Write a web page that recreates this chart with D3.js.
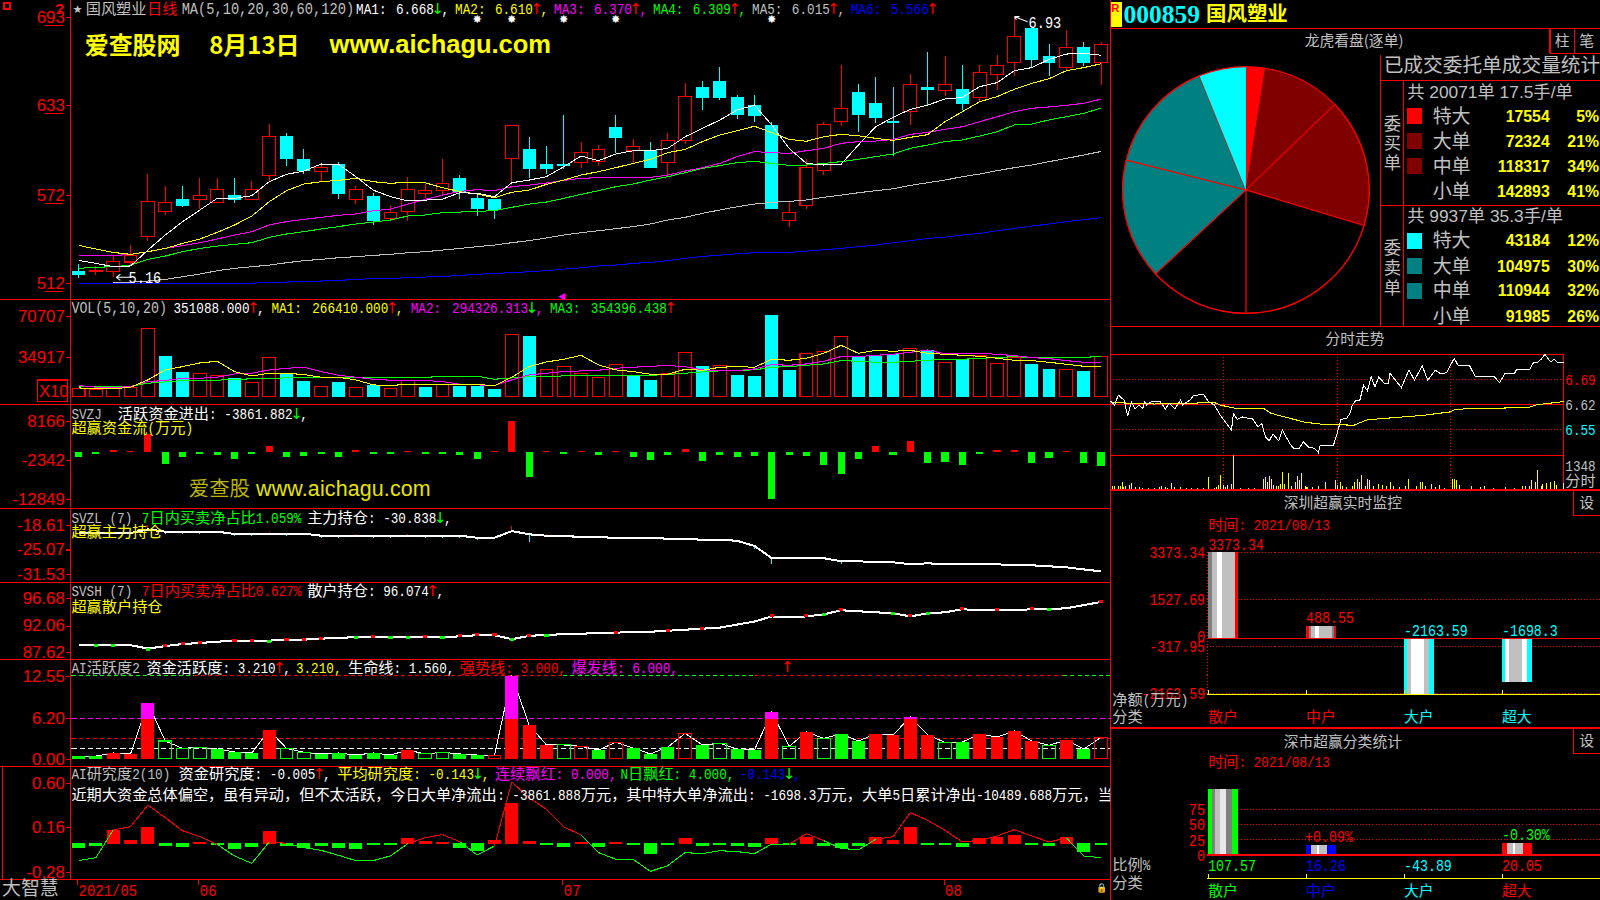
<!DOCTYPE html>
<html><head><meta charset="utf-8">
<script src="https://cdnjs.cloudflare.com/ajax/libs/d3/7.8.5/d3.min.js"></script>
<style>html,body{margin:0;padding:0;background:#000;overflow:hidden}svg{display:block}</style>
</head><body><svg id="c"></svg>
<script>
// ---------- daily candles (price in 1/100 yuan, as on the axis)
const priceTicks=[693,633,572,512];
const open=[520.4,519.9,519.9,526.5,543.7,560.6,569.2,569.2,566.7,571.9,569.2,585.1,612,596.4,587.8,593,569.2,571.3,556.3,560.6,572.8,574.9,583.5,569.9,569.2,596.8,603.2,593,593,593.9,594.6,618.1,602,602.3,593.9,609,645.2,649.3,638.5,633,619.5,554.5,564.7,588.5,621.7,641.9,634.4,621.9,628.7,645.2,642.8,643.9,638,653.6,661.8,685.3,666.3,658.4,672.4,662];
const close=[517.7,520.8,526.9,531,567.6,567,564.5,571.7,575.8,568.5,575.8,611.8,596.4,588,590.3,572.6,575.8,554.3,560.2,575.8,575.1,579.9,574,562.4,561.8,619.2,589.6,589.6,591.6,600.7,602.9,610.6,605,590.3,609,638.9,637.8,637.8,626.2,625.6,562.4,560.2,590.7,619.9,630.8,626.2,624.2,621,647.1,643.2,647.1,633.7,655.2,660,679.6,663.6,661.5,672.2,661.5,674.4];
const high=[525.1,523.8,530.5,537.8,586.2,578.1,578.1,583.5,583.5,583.5,581.2,620.1,614,603.2,592.3,594.1,578.1,573.1,564.9,583.9,579.4,596.4,585.3,573.1,569.2,619.2,611.3,605.2,626.2,607.7,605.9,626.2,609.7,607.7,613.8,648,649.3,658.8,639.8,639.8,621.5,567.2,596.2,621.5,660.2,647.3,652,645.2,654.1,669,666.3,660.2,660.2,667,693,685.3,674.4,683.9,675.8,675.6];
const low=[515.6,517.9,516.1,524.4,540.9,558.4,563.8,562.2,566.7,566.5,569.2,581.4,591.6,586.2,581.2,569.2,565.8,551.6,555,554.3,570.1,571.7,569.2,557.7,555.7,578.7,583.5,586.2,589.6,590.5,591.6,600.5,593.2,590.3,585.5,606.3,629.6,636.4,623.5,621.5,562.4,550.2,562.4,585.5,618.8,614.7,620.8,598.4,619.5,633,639.1,629.6,635.1,643.2,652.7,658.1,652.7,655.9,659.5,646.6];
const ma1=[527.6,525.6,523.3,523.8,534.6,544.8,553.8,561.8,569.7,569.7,571.5,581,586,588.2,593,592.8,584.4,575.3,570.8,567.9,568.5,569.2,573.5,573.1,570.8,580.3,582.1,584.4,591.2,598.4,595.2,599.8,602,602,603.6,611.5,617.2,622.8,629.6,633,619.5,603.6,593.4,592.3,592.8,605.9,618.3,624.7,630.1,633,637.1,638.2,645.5,648.2,656.3,658.4,664,667.6,668.1,666.8];
const ma2=[537.8,535.3,533,531.7,533.5,535.7,539.1,542.1,546.6,551.6,557.7,567.4,574.9,579.4,581,581.9,583.3,581,579.9,580.6,580.3,576.9,574.2,572.6,570.1,573.8,575.3,579.2,582.1,585.5,587.8,590.5,593.4,596.2,600.7,602.9,608.2,612.7,615.6,618.6,614.3,609.7,608.4,611.5,613.1,612.2,610.4,609,611.1,612.9,621.7,628.5,635.3,638.7,643.7,647.7,650.9,656.3,658.4,661];
const ma3=[531,531,531,531.5,533.5,535.7,537.6,539.6,542.1,544.8,547.1,551.6,553.9,555.4,556.8,558.2,559.1,561.3,562.4,565.8,569,571.9,574.4,575.6,574.9,577.6,578.7,580.1,581.9,583.3,583.7,583.7,583.9,583.9,585.5,588.2,590.5,593.4,598,601.4,600.7,600.2,602,603.6,607,608.2,608.6,609.7,613.1,614.5,616.5,618.3,621.7,625.1,628.5,630.8,631.7,632.8,634.2,637];
const ma4=[522.2,522.9,523.3,524.4,528.3,530.5,533.5,535.7,537.3,538.5,539.6,543.2,545.5,547.1,548.9,550.5,552.3,553.6,555,557.7,558.4,560,560.4,560.9,561.3,563.6,565.8,567.2,569.7,572.4,574.9,577.6,579.4,582.1,584.4,587.1,590,591.9,593.9,594.8,593.4,592.1,592.3,593.4,594.6,596.2,598,599.8,603.6,605.9,608.2,609.3,612,614.9,619.5,620.1,622.9,625.1,627.4,630.9];
const ma5=[null,null,512.4,512.7,513.6,514.7,516.5,518.3,520.6,522.2,523.3,524.4,526,527.4,528.3,529.4,530.1,531,531.7,532.8,533.5,534.6,535.7,536.9,538,539.6,541,542.8,544.8,546.4,547.7,549.1,550.5,552.3,555,556.8,559.5,561.8,564,565.8,567,567.6,568.6,570.4,571.9,573.5,574.9,576.2,578.5,580.3,582.1,584.4,586.2,588.5,590.5,592.3,594.6,596.8,599.1,601.5];
const ma6=[512,512,512,512,512,512,512,512.2,512.2,512.2,512.2,512.4,512.9,513.1,513.6,514,514.7,515.2,515.4,515.8,516.3,516.7,517.4,518.1,518.8,519.2,519.9,520.6,521.7,522.6,523.8,524.4,525.6,526.2,527.4,529,530.3,531.2,532.1,532.8,532.8,533,533.9,534.8,535.7,536.9,538,539.6,541,542.5,543.4,544.8,545.9,547.7,549.3,550.9,552.3,553.9,555.2,556.6];
const starIdx=[23,25,28,31,40];
// ---------- volume
const volTicks=[70707,34917];
const vol=[7275,5820,6984,8148,59655,35502,21534,20370,18333,16005,12513,34338,20370,13677,9021,12804,8148,10476,7275,13968,8439,10185,9603,9603,6693,54417,52962,23862,26481,20370,16878,28227,18042,14550,20370,38703,26772,27354,18915,18042,71295,23280,37830,39576,52671,34338,35502,37248,42195,40740,29973,32592,35502,29100,34338,28518,24153,23862,22407,34920];
const volKind="rrrrrccrrcrrccrcrcrrcrcccrcrrrrrccrrcrccccrrrcccrcrcrrrccrcr";
const volMa1=[7566,6693,6693,8148,14550,23280,26190,29391,30846,21825,18042,20370,20370,19206,16878,16878,14550,10185,9603,10767,10185,10185,10767,10767,9312,16878,26190,30264,32592,36084,27645,23280,21825,19497,19497,23862,22989,25608,26190,25608,32592,31719,33465,37830,44814,37830,40449,39576,40449,37830,36957,36084,35211,33465,31719,31428,29973,28227,26481,26641];
const volMa2=[9603,8148,7857,8730,13095,13968,16005,16005,16878,19788,20370,23280,24735,25608,21825,18624,16878,15132,14259,13968,13968,13095,10767,10185,9603,14550,18915,20370,21825,22407,22989,24735,25608,26481,27063,26190,23280,22989,22698,24153,27936,27354,28518,30846,34920,34920,36084,36957,38703,40740,37248,37830,37830,36957,35793,34047,33174,31428,29973,29432];
const volMa3=[8730,8730,8730,9021,11640,12804,13968,13968,14259,15132,15423,16005,16296,16296,16587,16587,16587,16587,16587,16878,16878,17460,17751,17751,15132,16296,17460,17460,18042,18624,18624,18624,18624,18624,19206,20370,21534,22407,22989,23280,25608,26190,27354,28518,31428,30846,29973,29973,30846,31719,32592,32592,33465,34047,34920,34047,34047,34047,34047,35440];
// ---------- SVZJ money flow
const flowTicks=[8166,-2342,-12849];
const flow=[-1437,-180,359,90,4670,-3412,-1437,-718,-898,-1976,-629,1437,-1437,-1257,-629,-1437,359,-629,-359,90,-449,-359,-898,-2065,90,8166,-6825,90,-449,90,-988,90,-1527,-2335,-988,629,-2604,-988,-1527,-1257,-12849,-988,-1257,-3682,-6106,-2065,1437,-988,2784,-3143,-2874,-3682,-718,359,359,-3143,-1796,90,-3143,-3861.882];
// ---------- SVZL / SVSH
const zlTicks=[-18.61,-25.07,-31.53];
const zl=[-20.71,-20.71,-20.71,-20.71,-19.77,-20.36,-20.36,-20.36,-20.36,-20.98,-20.98,-20.9,-20.9,-20.9,-21.44,-21.44,-21.44,-21.44,-21.44,-21.44,-21.44,-21.44,-21.44,-21.97,-21.97,-20.23,-21.06,-21.44,-21.57,-21.71,-21.84,-21.98,-21.98,-21.98,-22.24,-22.24,-22.51,-22.51,-22.78,-24.13,-27.36,-27.36,-27.36,-27.36,-28.17,-28.17,-28.44,-28.44,-28.97,-28.71,-28.97,-28.97,-28.97,-28.97,-29.24,-29.24,-29.51,-29.78,-30.32,-30.838];
const zlWickIdx=[4,11,16,19,25,27,5,6,7,9,10,12,14,15,17,18,20,21,22,23,26,39,40,44];
const zlWickEnd=[-18.5,-20.4,-21,-21,-18.75,-21,-21,-21,-21,-21.5,-21.5,-21.5,-22,-22,-22,-22,-22,-22,-22,-22.5,-23.05,-25,-28.97,-28.8];
const shTicks=[96.68,92.06,87.62];
const sh=[88.72,88.72,88.72,88.72,88.14,88.56,88.91,89.09,89.31,89.49,89.49,89.49,89.66,89.66,89.83,89.96,90.08,90.08,90.08,90.08,90.08,90.08,90.22,90.41,90.41,89.73,90.3,90.48,90.57,90.65,90.83,90.83,91,91,91.17,91.35,91.52,91.7,92.22,92.74,93.61,93.44,93.61,93.96,94.66,94.49,94.31,94.14,93.61,94.14,94.31,94.83,94.66,94.66,94.66,94.83,94.83,95,95.53,96.074];
const shRedIdx=[5,6,7,9,10,12,13,14,17,20,22,23,24,26,31,34,36,40,42,44,48,51,53,55,59];
const shGreenIdx=[1,2,4,11,16,18,19,21,25,27,43,47,49,56];
// ---------- AI activity
const actTicks=[12.55,6.2,0];
const act=[.4,.4,.86,.71,8.41,2.67,1.56,1.71,1.46,1.01,.86,4.33,1.56,.96,.71,.86,.55,.86,.55,1.31,.71,.96,.71,.55,.5,12.55,5.09,2.07,2.07,1.86,1.31,2.47,1.61,.71,1.76,3.83,2.07,2.32,1.46,1.31,7.05,1.86,4.03,3.07,3.73,2.67,3.73,3.58,6.3,3.58,2.47,2.52,3.73,3.27,4.18,2.67,2.02,2.82,1.46,3.21];
const actKind="ggrrrhhhgggrhhgggggrhhggorrrhogogggoghggrhrhggrrrrhgrrrrhrgo";
const actLevels=[3,6,1.56];
// ---------- AI research
const resTicks=[.6,.16,-.28];
const resBars=[-.049,-.03,.129,.03,.158,-.03,-.04,.013,-.02,-.059,-.04,.119,-.03,-.049,-.03,-.049,-.059,-.02,-.02,.049,.02,.01,-.049,-.079,.03,.396,.02,-.02,-.04,.01,-.04,.01,-.02,-.109,-.007,.049,-.03,-.007,-.03,-.04,.049,-.02,.059,-.03,-.049,-.03,.059,.03,.158,-.007,-.02,-.04,.049,.059,.079,-.02,-.03,.059,-.089,-.005];
const resLine=[-.171,-.142,.132,.165,.379,.254,.125,.066,-.01,-.125,-.198,.013,0,-.043,-.069,-.119,-.171,-.171,-.125,-.003,.056,.086,.016,-.115,-.026,.606,.452,.336,.162,.082,-.092,-.158,-.158,-.277,-.221,-.092,-.102,-.073,-.082,-.102,-.007,-.01,.096,.026,-.049,-.066,.04,.066,.303,.227,.129,.013,.03,.073,.135,.073,.013,.053,-.125,-.143];
const monthIdx=[0,7,28,50];
const monthLabels=["2021/05","06","07","08"];
// ---------- order pie
const pieValues=[17554,72324,118317,142893,91985,110944,104975,43184];
const pieColors=["#ff0000","#800000","#800000","#000000","#000000","#008080","#008080","#00ffff"];
const orderNames=["特大","大单","中单","小单"];
const buyAmt=[17554,72324,118317,142893], buyPct=["5%","21%","34%","41%"];
const sellAmt=[43184,104975,110944,91985], sellPct=["12%","30%","32%","26%"];
// ---------- intraday
const minPrice=[0,2,4,6,7,9,11,13,15,17,18,19,22,26,29,31,34,37,38,42,44,46,49,52,55,58,60,64,65,67,70,73,75,78,80,82,84,86,89,91,95,97,100,102,105,108,110,111,118,120,122,125,127,128,130,132,134,136,138,140,142,145,147,148,154,158,161,165,168,172,175,178,182,184,190,193,203,206,209,214,215,222,224,226,228,230,233,235,237,240];
const price=[6.629,6.618,6.646,6.637,6.634,6.587,6.627,6.607,6.618,6.609,6.627,6.618,6.629,6.629,6.607,6.623,6.607,6.632,6.618,6.632,6.646,6.646,6.649,6.627,6.618,6.59,6.576,6.548,6.595,6.578,6.585,6.581,6.581,6.557,6.567,6.529,6.518,6.537,6.518,6.548,6.509,6.497,6.497,6.516,6.5,6.497,6.485,6.505,6.505,6.539,6.578,6.581,6.597,6.618,6.632,6.632,6.674,6.658,6.697,6.669,6.697,6.679,6.679,6.707,6.667,6.716,6.688,6.728,6.688,6.716,6.705,6.709,6.749,6.73,6.73,6.699,6.699,6.681,6.707,6.707,6.718,6.718,6.737,6.737,6.746,6.76,6.739,6.746,6.737,6.738];
const minAvg=[0,7,23,55,58,66,81,85,92,103,114,129,136,165,180,182,189,221,226,240];
const avgPrice=[6.627,6.624,6.621,6.625,6.618,6.609,6.609,6.595,6.585,6.57,6.563,6.562,6.577,6.589,6.599,6.605,6.608,6.611,6.619,6.628];
const tickMin=[1,2,4,5,6,7,8,10,11,13,15,17,20,23,26,27,29,30,32,34,37,40,43,46,49,52,55,56,57,58,60,61,62,64,65,69,73,76,81,82,83,84,85,86,88,89,90,91,92,94,96,98,99,100,101,103,104,107,110,114,119,120,122,123,125,128,129,131,132,133,135,136,137,139,142,144,146,148,150,153,156,158,162,164,165,167,170,172,174,177,181,182,183,185,191,196,198,203,209,214,218,220,222,223,225,226,228,229,231,233,235,236,240];
const tickVol=[106,106,133,133,293,80,106,160,239,67,67,53,53,53,67,106,80,53,239,67,67,40,40,40,40,492,40,67,160,559,160,67,160,213,1348,27,27,27,399,492,266,505,399,160,133,106,186,665,186,638,106,266,532,372,625,133,67,80,133,266,372,160,266,106,67,133,266,399,266,559,133,399,372,106,200,160,106,266,106,67,106,399,106,266,293,133,200,67,160,40,399,399,346,160,106,67,106,40,67,40,106,106,133,372,266,758,106,200,239,266,333,160,239];
// ---------- Shenzhen panels
const clsNames=["散户","中户","大户","超大"];
const netValues=[3373.34,488.55,-2163.59,-1698.3];
const netLabels=["3373.34","488.55","-2163.59","-1698.3"];
const netTicks=[3373.34,1527.69,-317.95,-2163.59];
const ratioValues=[107.57,16.26,0,20.05];
const ratioLabels=["107.57","16.26","-43.89","20.05"];
const ratioTicks=[75,50,25,0];

// ================= drawing
const RED="#ff0000",GRAY="#c0c0c0";
const svg=d3.select("#c").attr("width",1600).attr("height",900).attr("viewBox","0 0 1568 882").style("background","#000");
const crisp=svg.append("g").attr("shape-rendering","crispEdges");
const defs=svg.append("defs");
defs.append("clipPath").attr("id","left").append("rect").attr("x",0).attr("y",0).attr("width",1088).attr("height",882);
const idx=d3.range(60);
const x=d3.scaleBand().domain(idx).range([68.5,1087.5]);
const cx=i=>x(i)+x.bandwidth()/2;
const W=12.6;
function hline(y,x1,x2,c,w,dash){const l=crisp.append("line").attr("x1",x1).attr("x2",x2).attr("y1",y).attr("y2",y).attr("stroke",c||RED).attr("stroke-width",w||1);if(dash)l.attr("stroke-dasharray",dash);return l;}
function vline(xx,y1,y2,c,w,dash){const l=crisp.append("line").attr("x1",xx).attr("x2",xx).attr("y1",y1).attr("y2",y2).attr("stroke",c||RED).attr("stroke-width",w||1);if(dash)l.attr("stroke-dasharray",dash);return l;}
function mixed(px,py,str,color,o){o=o||{};const cw=o.size||14.9,aw=cw/2;const p=o.parent||svg;
  const chars=Array.from(str);
  const width=chars.reduce((a,c)=>a+(c.charCodeAt(0)>=0x2E80?cw:aw),0);
  let xx=o.anchor==="end"?px-width:px;let i=0;
  while(i<chars.length){const c=chars[i];const code=c.charCodeAt(0);
    if(c==="↑"||c==="↓"){p.append("text").attr("x",xx+aw/2).attr("y",py+cw*.36).attr("text-anchor","middle").attr("font-family","DejaVu Sans").attr("font-size",cw).attr("fill",c==="↑"?RED:"#00ff00").text(c);xx+=aw;i++;continue;}
    const cjk=code>=0x2E80;let j=i;let s="";
    while(j<chars.length){const d=chars[j];if(d==="↑"||d==="↓")break;if((d.charCodeAt(0)>=0x2E80)!==cjk)break;s+=d;j++;}
    const n=j-i;
    const t=p.append("text").attr("x",xx).attr("y",py+cw*.36).attr("xml:space","preserve").style("white-space","pre").attr("font-family",cjk?"Noto Sans CJK SC":"Liberation Mono").attr("font-size",cjk?cw:cw*.98).attr("fill",color).text(s);
    if(!cjk)t.attr("textLength",n*aw).attr("lengthAdjust","spacingAndGlyphs");
    xx+=n*(cjk?cw:aw);i=j;}
}
// panel frames
[293.4,396,498.2,570.7,646.2,751.3,862].forEach(y=>hline(y,0,1088));
vline(69.5,0,862);vline(1088.5,0,882);
crisp.append("rect").attr("x",2).attr("y",751.3).attr("width",67.5).attr("height",110.7).attr("fill","none").attr("stroke",RED);
// axis helper
function axis(scale,vals,fmt){const g=svg.append("g").attr("transform","translate(69.5,0)").call(d3.axisLeft(scale).tickValues(vals).tickSize(5).tickPadding(1).tickFormat(fmt||(d=>d)));
  g.select(".domain").remove();g.selectAll("line").attr("stroke",RED).attr("shape-rendering","crispEdges");
  g.selectAll("text").attr("fill",RED).attr("font-family","Liberation Sans").attr("font-size",16.5);return g;}
// --- main
const yP=d3.scaleLinear().domain([512,693]).range([277.7,16.3]);
axis(yP,priceTicks);
priceTicks.forEach(v=>hline(yP(v)+8.4,44.5,61.5));
const gc=crisp.append("g");
idx.forEach(i=>{const up=close[i]>=open[i],c=up?RED:"#00ffff";
  gc.append("line").attr("x1",cx(i)).attr("x2",cx(i)).attr("y1",yP(high[i])).attr("y2",yP(low[i])).attr("stroke",c);
  const t=yP(Math.max(open[i],close[i])),b=yP(Math.min(open[i],close[i]));
  gc.append("rect").attr("x",cx(i)-W/2).attr("y",t).attr("width",W).attr("height",Math.max(b-t,1.5)).attr("fill",up?"#000":c).attr("stroke",up?c:"none");
});
const lineOf=s=>d3.line().defined(d=>d!==null).x((d,i)=>cx(i)).y(d=>s(d));
[[ma6,"#0000ff"],[ma5,"#c0c0c0"],[ma4,"#00ff00"],[ma3,"#ff00ff"],[ma2,"#ffff00"],[ma1,"#ffffff"]].forEach(([d,c])=>{
  crisp.append("path").attr("d",lineOf(yP)(d)).attr("fill","none").attr("stroke",c).attr("stroke-width",1);});
svg.selectAll(".st").data(starIdx).enter().append("text").attr("x",d=>cx(d)).attr("y",23).attr("text-anchor","middle").attr("font-family","DejaVu Sans").attr("font-size",11).attr("fill","#fff").text("✸");
// header
crisp.append("rect").attr("x",3.5).attr("y",3).attr("width",6).attr("height",6).attr("fill","none").attr("stroke",RED).attr("stroke-width",2);
svg.append("text").attr("x",54).attr("y",14).attr("font-family","Liberation Sans").attr("font-weight","bold").attr("font-size",15).attr("fill",RED).text("?");
svg.append("text").attr("x",71).attr("y",13).attr("font-family","DejaVu Sans").attr("font-size",11).attr("fill",GRAY).text("★");
mixed(84,8,"国风塑业",GRAY);mixed(144,8,"日线",RED);
mixed(178,8,"MA(5,10,20,30,60,120)",GRAY,{size:16.1});
[["MA1:","6.668↓,","#fff",349],["MA2:","6.610↑,","#ffff00",446],["MA3:","6.370↑,","#ff00ff",543],["MA4:","6.309↑,","#00ff00",640],["MA5:","6.015↑,",GRAY,737],["MA6:","5.566↑","#0000ff",834]].forEach(r=>{
  mixed(r[3],8,r[0],r[2]);mixed(r[3]+39,8,r[1],r[2]);});
const bn=(xx,t)=>svg.append("text").attr("x",xx).attr("y",53).attr("font-family","Noto Sans CJK SC").attr("font-weight","bold").attr("font-size",23.5).attr("fill","#ffff00").text(t);
bn(83,"爱查股网");bn(205,"8月13日");
svg.append("text").attr("x",323).attr("y",52).attr("font-family","Liberation Sans").attr("font-weight","bold").attr("font-size",25).attr("textLength",217).attr("fill","#ffff00").text("www.aichagu.com");
// min / max notes
mixed(126,272,"5.16","#fff",{size:16});
svg.append("path").attr("d",`M${cx(2)+3},${yP(low[2])}h15M${cx(2)+3},${yP(low[2])}l4,-3M${cx(2)+3},${yP(low[2])}l4,3`).attr("stroke","#fff").attr("fill","none");
mixed(1008,22,"6.93","#fff",{size:16});
svg.append("path").attr("d",`M${cx(54)},${yP(high[54])}L${cx(54)+13},${yP(high[54])+5}M${cx(54)},${yP(high[54])}l5,0M${cx(54)},${yP(high[54])}l2,3`).attr("stroke","#fff").attr("fill","none");
svg.append("text").attr("x",547).attr("y",293).attr("font-family","DejaVu Sans").attr("font-size",9).attr("fill","#ff00ff").text("◀");
// --- volume
const yV=d3.scaleLinear().domain([0,70707]).range([388.6,309.4]);
axis(yV,volTicks);
crisp.append("rect").attr("x",36.7).attr("y",372.4).attr("width",29.8).attr("height",21.2).attr("fill","none").attr("stroke",RED);
svg.append("text").attr("x",38.5).attr("y",389).attr("font-family","Liberation Sans").attr("font-size",16).attr("fill",RED).text("X10");
const gv=crisp.append("g");
idx.forEach(i=>{const up=volKind[i]==="r";gv.append("rect").attr("x",cx(i)-W/2).attr("y",yV(vol[i])).attr("width",W).attr("height",yV(0)-yV(vol[i])).attr("fill",up?"#000":"#00ffff").attr("stroke",up?RED:"none");});
[[volMa3,"#00ff00"],[volMa2,"#ff00ff"],[volMa1,"#ffff00"]].forEach(([d,c])=>crisp.append("path").attr("d",lineOf(yV)(d)).attr("fill","none").attr("stroke",c));
mixed(70,301,"VOL(5,10,20)",GRAY,{size:15.6});mixed(170,301,"351088.000↑,","#fff");
mixed(266,301,"MA1:","#ffff00");mixed(306,301,"266410.000↑,","#ffff00");
mixed(402.5,301,"MA2:","#ff00ff");mixed(443,301,"294326.313↓,","#ff00ff");
mixed(539,301,"MA3:","#00ff00");mixed(579,301,"354396.438↑","#00ff00");
// --- flow
const yF=d3.scaleLinear().domain([8166,-2342]).range([412.6,450.8]);
axis(yF,flowTicks);
const flowBase=yF(-300);
idx.forEach(i=>{const v=flow[i];const t=v>=0?yF(v):flowBase,b=v>=0?flowBase:yF(v);
  crisp.append("rect").attr("x",cx(i)-3.5).attr("y",t).attr("width",7).attr("height",Math.max(b-t,1.2)).attr("fill",v>=0?RED:"#00ff00");});
mixed(70,405,"SVZJ",GRAY);mixed(115.5,405,"活跃资金进出: -3861.882↓,","#fff");
mixed(70,419,"超赢资金流(万元)","#ffff00");
svg.append("text").attr("x",185).attr("y",486).attr("font-family","Noto Sans CJK SC").attr("font-size",20).attr("fill","#b8b400").text("爱查股");
svg.append("text").attr("x",251).attr("y",486).attr("font-family","Liberation Sans").attr("font-size",21).attr("textLength",171).attr("fill","#e8e400").text("www.aichagu.com");
// --- SVZL
const yZ=d3.scaleLinear().domain([-18.61,-31.53]).range([514.5,562.5]);
axis(yZ,zlTicks,d=>d.toFixed(2));
zlWickIdx.forEach((d,k)=>vline(cx(d),yZ(zl[d]),yZ(zlWickEnd[k]),zlWickEnd[k]>zl[d]?RED:"#00ffff"));
crisp.append("path").attr("d",lineOf(yZ)(zl)).attr("fill","none").attr("stroke","#fff").attr("stroke-width",2);
mixed(70,506.7,"SVZL (7)",GRAY);mixed(139,506.7,"7日内买卖净占比1.059%","#00ff00");mixed(301,506.7,"主力持仓: -30.838↓,","#fff");
mixed(70,521,"超赢主力持仓","#ffff00");
// --- SVSH
const yS=d3.scaleLinear().domain([96.68,87.62]).range([586.4,638.6]);
axis(yS,shTicks,d=>d.toFixed(2));
crisp.append("path").attr("d",lineOf(yS)(sh)).attr("fill","none").attr("stroke","#fff").attr("stroke-width",2);
shRedIdx.forEach(d=>crisp.append("rect").attr("x",cx(d)-2).attr("y",yS(sh[d])-2).attr("width",4).attr("height",3).attr("fill",RED));
shGreenIdx.forEach(d=>crisp.append("rect").attr("x",cx(d)-2).attr("y",yS(sh[d])-1).attr("width",4).attr("height",3).attr("fill","#00ff00"));
mixed(70,579,"SVSH (7)",GRAY);mixed(139,579,"7日内买卖净占比0.627%",RED);mixed(301,579,"散户持仓: 96.074↑,","#fff");
mixed(70,594,"超赢散户持仓","#ffff00");
// --- activity
const yA=d3.scaleLinear().domain([0,12.55]).range([743.5,662.1]);
axis(yA,actTicks,d=>d.toFixed(2));
[[70,190,"#00ff00"],[190,552,RED],[552,739,"#00ff00"],[739,1042,RED],[1042,1088,"#00ff00"]].forEach(s=>hline(yA(12.55),s[0],s[1],s[2],1,"4,3"));
hline(yA(actLevels[0]),70,1088,RED,1,"4,3");hline(yA(actLevels[1]),70,1088,"#ff00ff",1,"5,3");hline(yA(actLevels[2]),70,1088,"#fff",1,"5,3");
crisp.append("path").attr("d",lineOf(yA)(act)).attr("fill","none").attr("stroke","#fff");
idx.forEach(i=>{const k=actKind[i],v=act[i];const solid=k==="g"||k==="r";const c=(k==="g"||k==="h")?"#00ff00":RED;
  crisp.append("rect").attr("x",cx(i)-W/2).attr("y",yA(Math.min(v,6))).attr("width",W).attr("height",yA(0)-yA(Math.min(v,6))).attr("fill",solid?c:"none").attr("stroke",solid?"none":c);
  if(v>6)crisp.append("rect").attr("x",cx(i)-W/2).attr("y",yA(v)).attr("width",W).attr("height",yA(6)-yA(v)).attr("fill","#ff00ff");});
mixed(70,654,"AI活跃度2",GRAY);mixed(143.5,654,"资金活跃度: 3.210↑,","#fff");mixed(290,654,"3.210,","#ffff00");
mixed(341,654,"生命线: 1.560,","#fff");mixed(450.5,654,"强势线: 3.000,",RED);mixed(560,654,"爆发线: 6.000,","#ff00ff");
mixed(768,653,"↑","#fff");
// --- research
const yR=d3.scaleLinear().domain([.6,-.28]).range([767,854.2]);
axis(yR,resTicks,d=>d.toFixed(2));
idx.forEach(i=>{const v=resBars[i];const t=v>=0?yR(v):yR(0),b=v>=0?yR(0)+1:yR(v);
  crisp.append("rect").attr("x",cx(i)-W/2).attr("y",t).attr("width",W).attr("height",Math.max(b-t,2)).attr("fill",v>=0?RED:"#00ff00");});
d3.pairs(idx).forEach(([a,b])=>{crisp.append("line").attr("x1",cx(a)).attr("x2",cx(b)).attr("y1",yR(resLine[a])).attr("y2",yR(resLine[b])).attr("stroke",(resLine[a]+resLine[b])>=0?RED:"#00ff00");});
mixed(70,758.5,"AI研究度2(10)",GRAY);mixed(175,758.5,"资金研究度: -0.005↑,","#fff");mixed(330.5,758.5,"平均研究度: -0.143↓,","#ffff00");
mixed(485,758.5,"连续飘红: 0.000,","#ff00ff");mixed(608,758.5,"N日飘红: 4.000,","#00ff00");mixed(725,758.5,"-0.143↓,","#0000ff");
const longG=svg.append("g").attr("clip-path","url(#left)");
mixed(70,779,"近期大资金总体偏空，虽有异动，但不太活跃，今日大单净流出: -3861.888万元，其中特大单净流出: -1698.3万元，大单5日累计净出-10489.688万元，当","#fff",{parent:longG});
// --- date axis
svg.append("text").attr("x",2).attr("y",877).attr("font-family","Noto Sans CJK SC").attr("font-size",18.5).attr("fill",GRAY).text("大智慧");
monthIdx.forEach((d,k)=>{vline(cx(d)-1,862,867);mixed(cx(d)+ (k===0?0:0)+3-3,872,monthLabels[k],RED,{size:16.4});});
svg.append("text").attr("x",1074).attr("y",873).attr("font-family","DejaVu Sans").attr("font-size",9).attr("fill","#fff").text("🔒");
// ================= right column
crisp.append("rect").attr("x",1088.5).attr("y",1.6).attr("width",11.5).attr("height",24.4).attr("fill","#ffff00");
svg.append("text").attr("x",1089).attr("y",12).attr("font-family","Liberation Sans").attr("font-weight","bold").attr("font-size",11).attr("fill",RED).text("R");
svg.append("text").attr("x",1101).attr("y",23).attr("font-family","Liberation Serif").attr("font-weight","bold").attr("font-size",25).attr("fill","#00ffff").text("000859");
svg.append("text").attr("x",1182).attr("y",21).attr("font-family","Noto Sans CJK SC").attr("font-weight","bold").attr("font-size",20).attr("fill","#ffff00").text("国风塑业");
hline(27.8,1088,1568);
const sub=(xx,y,t)=>svg.append("text").attr("x",xx).attr("y",y+5).attr("text-anchor","middle").attr("font-family","Noto Sans CJK SC").attr("font-size",14.5).attr("fill",GRAY).text(t);
sub(1327,40,"龙虎看盘(逐单)");
vline(1519,27.8,52);hline(52,1519,1568);vline(1543,27.8,52);
sub(1531,40,"柱");sub(1555,40,"笔");
const pie=d3.pie().sort(null).value(d=>d)(pieValues);
const arc=d3.arc().innerRadius(0).outerRadius(120.9);
svg.append("g").attr("transform","translate(1221,186.2)").selectAll("path").data(pie).enter().append("path").attr("d",arc).attr("fill",(d,i)=>pieColors[i]).attr("stroke",(d,i)=>(i===0||i===1||i===7)?"none":RED).attr("stroke-width",1);
svg.append("circle").attr("cx",1221).attr("cy",186.2).attr("r",120.9).attr("fill","none").attr("stroke",RED);
vline(1352.8,54,319.5);hline(78.7,1353,1568);vline(1375.3,78.7,319.5);hline(201.5,1353,1568);hline(319.8,1088,1568);
svg.append("text").attr("x",1356).attr("y",71).attr("font-family","Noto Sans CJK SC").attr("font-size",19.3).attr("fill",GRAY).text("已成交委托单成交量统计");
const rowT=(t,y)=>svg.append("text").attr("x",1379).attr("y",y+6).attr("xml:space","preserve").attr("font-family","Liberation Sans,Noto Sans CJK SC").attr("font-size",17).attr("fill",GRAY).text(t);
rowT("共 20071单 17.5手/单",90);rowT("共 9937单 35.3手/单",212);
const vert=(chars,ys)=>chars.split("").forEach((c,i)=>svg.append("text").attr("x",1364.5).attr("y",ys[i]+6).attr("text-anchor","middle").attr("font-family","Noto Sans CJK SC").attr("font-size",17).attr("fill",GRAY).text(c));
vert("委买单",[121,140,160]);vert("委卖单",[243,263,282]);
function rows(ys,amts,pcts,cols){ys.forEach((y,i)=>{
  if(cols[i])crisp.append("rect").attr("x",1378.4).attr("y",y-7.7).attr("width",15.3).attr("height",15.3).attr("fill",cols[i]);
  svg.append("text").attr("x",1404).attr("y",y+6.5).attr("font-family","Noto Sans CJK SC").attr("font-size",18.6).attr("fill",GRAY).text(orderNames[i]);
  svg.append("text").attr("x",1518.7).attr("y",y+5.5).attr("text-anchor","end").attr("font-family","Liberation Sans").attr("font-weight","bold").attr("font-size",15.5).attr("fill","#ffff00").text(amts[i]);
  svg.append("text").attr("x",1567).attr("y",y+5.5).attr("text-anchor","end").attr("font-family","Liberation Sans").attr("font-weight","bold").attr("font-size",15.5).attr("fill","#ffff00").text(pcts[i]);
});}
rows([114,138.5,162.7,187.2],buyAmt,buyPct,["#ff0000","#800000","#800000",null]);
rows([236,261,285,310],sellAmt,sellPct,["#00ffff","#008080","#008080",null]);
// --- intraday
sub(1328,332.6,"分时走势");
const xM=d3.scaleLinear().domain([0,240]).range([1088.5,1532.4]);
const yM=d3.scaleLinear().domain([6.69,6.55]).range([371.8,420.8]);
const yT=d3.scaleLinear().domain([0,1348]).range([479.2,446.2]);
hline(347.2,1088,1532.4);vline(1532.4,347.2,480);hline(446.2,1088,1532.4);hline(480.6,1088,1568,RED,2);
hline(yM(6.69),1088,1532.4,RED,1,"1,2");hline(yM(6.62),1088,1532.4);hline(yM(6.55),1088,1532.4,RED,1,"1,2");
[60,120,180].forEach(m=>vline(xM(m),347.2,480,RED,1,"1,2"));
tickMin.forEach((m,k)=>vline(xM(m),yT(tickVol[k]),yT(0),"#ffff00"));
crisp.append("path").attr("d",d3.line().x((d,i)=>xM(minAvg[i])).y(d=>yM(d))(avgPrice)).attr("fill","none").attr("stroke","#ffff00");
crisp.append("path").attr("d",d3.line().x((d,i)=>xM(minPrice[i])).y(d=>yM(d))(price)).attr("fill","none").attr("stroke","#fff");
mixed(1534,yM(6.69),"6.69",RED);mixed(1534,yM(6.62),"6.62",GRAY);mixed(1534,yM(6.55),"6.55","#00ffff");
mixed(1534,456,"1348",GRAY);mixed(1534,471,"分时",GRAY);
// --- net panel
sub(1316,493.3,"深圳超赢实时监控");
vline(1542,481,505);hline(505,1542,1568);sub(1555,493,"设");
mixed(1184,513.6,"时间: 2021/08/13",RED);
const xB=d3.scaleBand().domain(clsNames).range([1184,1568]).paddingInner(0);
const bW=29.4;
const yN=d3.scaleLinear().domain([3373.34,0]).range([541,625.6]);
function grad(id,stops){const g=defs.append("linearGradient").attr("id",id);stops.forEach((s,i)=>{
  g.append("stop").attr("offset",s[0]).attr("stop-color",s[2]);g.append("stop").attr("offset",s[1]).attr("stop-color",s[2]);});}
grad("n0",[[0,.14,"#808080"],[.14,.31,"#c0c0c0"],[.31,.46,"#fff"],[.46,.89,"#c0c0c0"],[.89,1,"#f00"]]);
grad("n1",[[0,.08,"#f00"],[.08,.17,"#808080"],[.17,.31,"#c0c0c0"],[.31,.44,"#fff"],[.44,.87,"#c0c0c0"],[.87,.93,"#808080"],[.93,1,"#f00"]]);
grad("n2",[[0,.11,"#0ff"],[.11,.22,"#c0c0c0"],[.22,.67,"#fff"],[.67,.84,"#c0c0c0"],[.84,1,"#0ff"]]);
grad("n3",[[0,.11,"#0ff"],[.11,.22,"#fff"],[.22,.67,"#c0c0c0"],[.67,.84,"#fff"],[.84,1,"#0ff"]]);
grad("r0",[[0,.13,"#0f0"],[.13,.24,"#808080"],[.24,.38,"#c0c0c0"],[.38,.6,"#e8e8e8"],[.6,.78,"#808080"],[.78,1,"#0f0"]]);
grad("r1",[[0,.16,"#00f"],[.16,.37,"#c0c0c0"],[.37,.43,"#fff"],[.43,.71,"#c0c0c0"],[.71,1,"#00f"]]);
grad("r3",[[0,.17,"#f00"],[.17,.37,"#c0c0c0"],[.37,.43,"#fff"],[.43,.71,"#c0c0c0"],[.71,1,"#f00"]]);
netTicks.forEach(v=>{hline(yN(v),1183,1568,RED,1,"1,2");mixed(1181,yN(v),v.toFixed(2),RED,{anchor:"end",size:15.6});});
mixed(1181,yN(0)-2,"0",RED,{anchor:"end",size:15.6});
vline(1183,541,680,RED,1,"1,2");
const netCols=[RED,RED,"#00ffff","#00ffff"];
clsNames.forEach((n,i)=>{const v=netValues[i],t=v>=0?yN(v):yN(0),b=v>=0?yN(0):yN(v);
  crisp.append("rect").attr("x",xB(n)).attr("y",t).attr("width",bW).attr("height",b-t).attr("fill",`url(#n${i})`);
  mixed(xB(n),v>=0?t-8:617.4,netLabels[i],netCols[i],{size:15.6});
  svg.append("text").attr("x",xB(n)).attr("y",708).attr("font-family","Noto Sans CJK SC").attr("font-size",14.5).attr("fill",netCols[i]).text(n);
  vline(xB(n),676,680.5,"#ffff00");
});
hline(yN(0),1183,1568,RED,1);hline(680.5,1183,1568,"#ffff00");
mixed(1090,686,"净额(万元)",GRAY);mixed(1090,702.3,"分类",GRAY);
// --- ratio panel
hline(713.8,1088,1568,RED,2);
sub(1316,726.8,"深市超赢分类统计");
vline(1542,714,738);hline(738,1542,1568);sub(1555,726,"设");
mixed(1184,746.7,"时间: 2021/08/13",RED);
const yC=d3.scaleLinear().domain([0,75]).range([838,792.9]);
ratioTicks.filter(v=>v>0).forEach(v=>hline(yC(v),1213,1568,RED,1,"1,2"));
ratioTicks.forEach(v=>mixed(1181,yC(v),String(v),RED,{anchor:"end",size:16}));
clsNames.forEach((n,i)=>{if(ratioValues[i]>0)crisp.append("rect").attr("x",xB(n)).attr("y",yC(ratioValues[i])).attr("width",bW).attr("height",yC(0)-yC(ratioValues[i])).attr("fill",`url(#r${i})`);
  const c=["#00ff00","#0000ff","#00ffff",RED][i];
  mixed(xB(n),847.7,ratioLabels[i],c,{size:15.6});
  svg.append("text").attr("x",xB(n)).attr("y",878).attr("font-family","Noto Sans CJK SC").attr("font-size",14.5).attr("fill",c).text(n);
  vline(xB(n),856.5,860.8,"#ffff00");
});
hline(837.9,1183,1568);hline(860.8,1183,1568,"#ffff00");
mixed(1279,820,"+0.09%",RED,{size:15.6});mixed(1472,817.6,"-0.30%","#00ff00",{size:15.6});
mixed(1090,847,"比例%",GRAY);mixed(1090,865,"分类",GRAY);
</script></body></html>
